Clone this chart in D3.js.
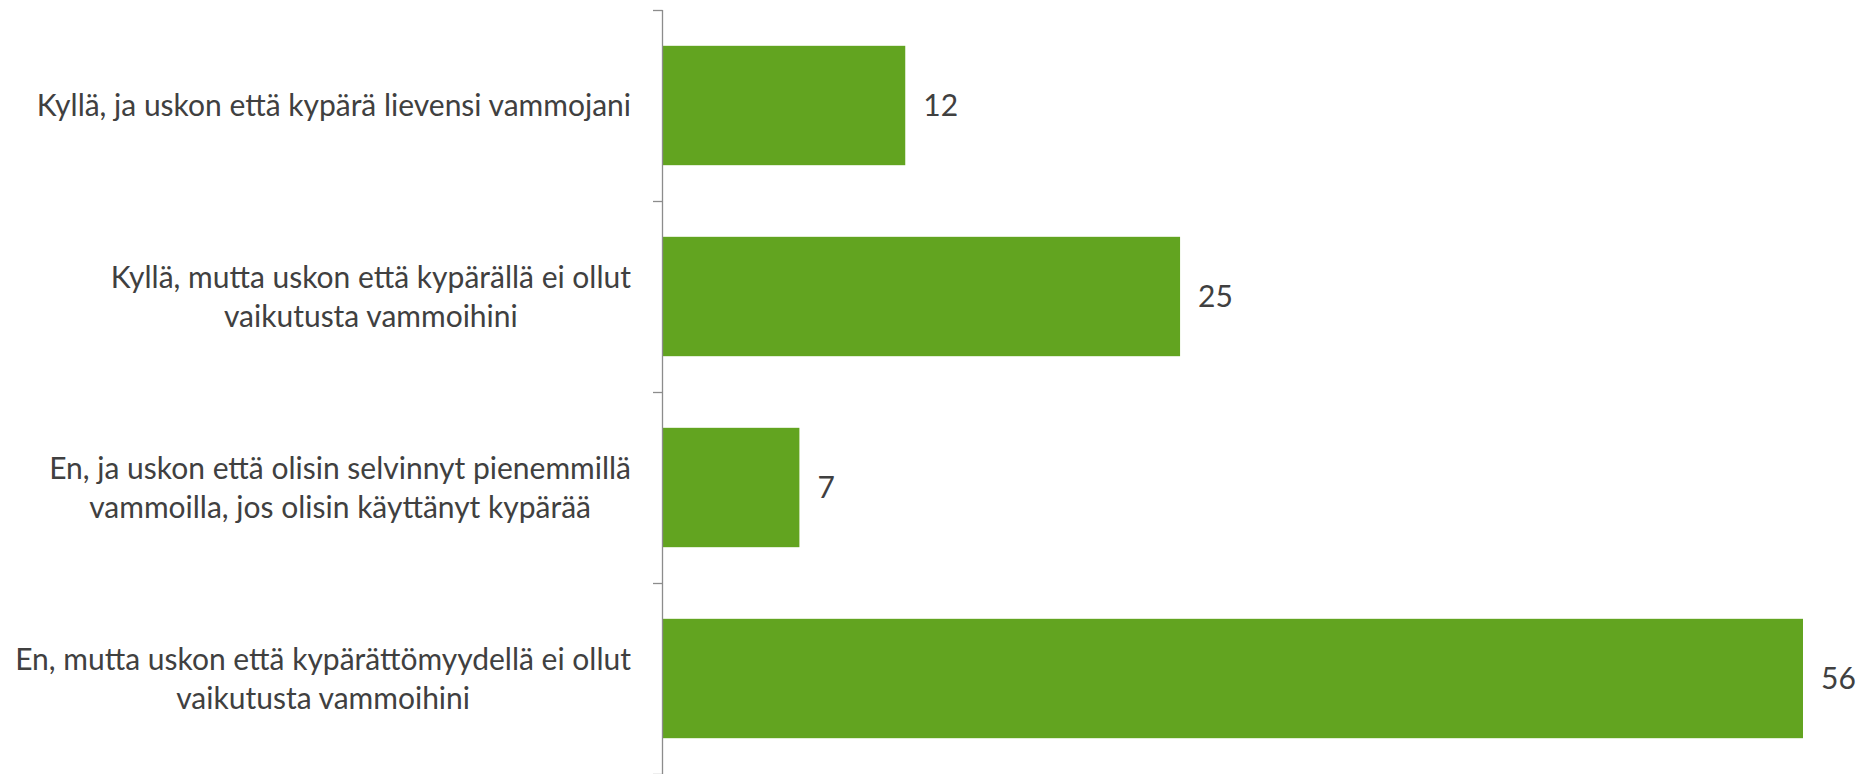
<!DOCTYPE html>
<html><head><meta charset="utf-8">
<script src="https://cdn.jsdelivr.net/npm/d3@7"></script>
<style>body{margin:0;background:#fff;} svg{display:block;}</style>
</head><body>
<svg id="c" width="1860" height="774"></svg>
<script>
const categories = [
  ["Kyllä, ja uskon että kypärä lievensi vammojani"],
  ["Kyllä, mutta uskon että kypärällä ei ollut", "vaikutusta vammoihini"],
  ["En, ja uskon että olisin selvinnyt pienemmillä", "vammoilla, jos olisin käyttänyt kypärää"],
  ["En, mutta uskon että kypärättömyydellä ei ollut", "vaikutusta vammoihini"]
];
const values = [11.9, 25.4, 6.7, 56.0];

(function () {
const axisX = 663, yTop = 10, yBottom = 774, xEnd = 1803;
const font = "Lato, 'Open Sans', sans-serif";
const fs = 30;
const svg = d3.select("#c");
const fmt = d3.format(".0f");

const keys = categories.map((c, i) => i);
const y = d3.scaleBand().domain(keys).range([yTop, yBottom]).paddingInner(0.375).paddingOuter(0.1875);
const x = d3.scaleLinear().domain([0, 56]).range([axisX, xEnd]);
const step = y.step();

svg.selectAll("rect.bar").data(values).join("rect")
  .attr("x", x(0)).attr("y", (d, i) => y(i))
  .attr("width", d => x(d) - x(0)).attr("height", y.bandwidth())
  .attr("fill", "#62a420");

svg.append("line").attr("x1", axisX - 0.5).attr("x2", axisX - 0.5).attr("y1", yTop).attr("y2", yBottom)
  .attr("stroke", "#8c8c8c").attr("stroke-width", 1.3);
const bounds = keys.map(i => y(i) - step * y.paddingInner() / 2).concat([yBottom]);
svg.selectAll("line.tick").data(bounds).join("line")
  .attr("x1", axisX - 10).attr("x2", axisX - 0.5).attr("y1", d => d + 0.5).attr("y2", d => d + 0.5)
  .attr("stroke", "#8c8c8c").attr("stroke-width", 1.3);

svg.selectAll("text.val").data(values).join("text")
  .attr("x", d => x(d) + 18).attr("y", (d, i) => y(i) + y.bandwidth() / 2)
  .attr("dy", "0.36em").attr("font-family", font).attr("font-size", fs)
  .attr("fill", "#404040").text(d => fmt(d));

const lh = 39;
const labelRight = 631;
categories.forEach((lines, i) => {
  const g = svg.append("g");
  const cy = y(i) + y.bandwidth() / 2;
  const texts = lines.map((ln, j) => g.append("text")
    .attr("y", cy + (j - (lines.length - 1) / 2) * lh)
    .attr("dy", "0.36em").attr("font-family", font).attr("font-size", fs)
    .attr("fill", "#404040").attr("text-anchor", "middle").text(ln));
  const maxW = d3.max(texts, t => t.node().getComputedTextLength());
  texts.forEach(t => t.attr("x", labelRight - maxW / 2));
});
})();
</script>
</body></html>
